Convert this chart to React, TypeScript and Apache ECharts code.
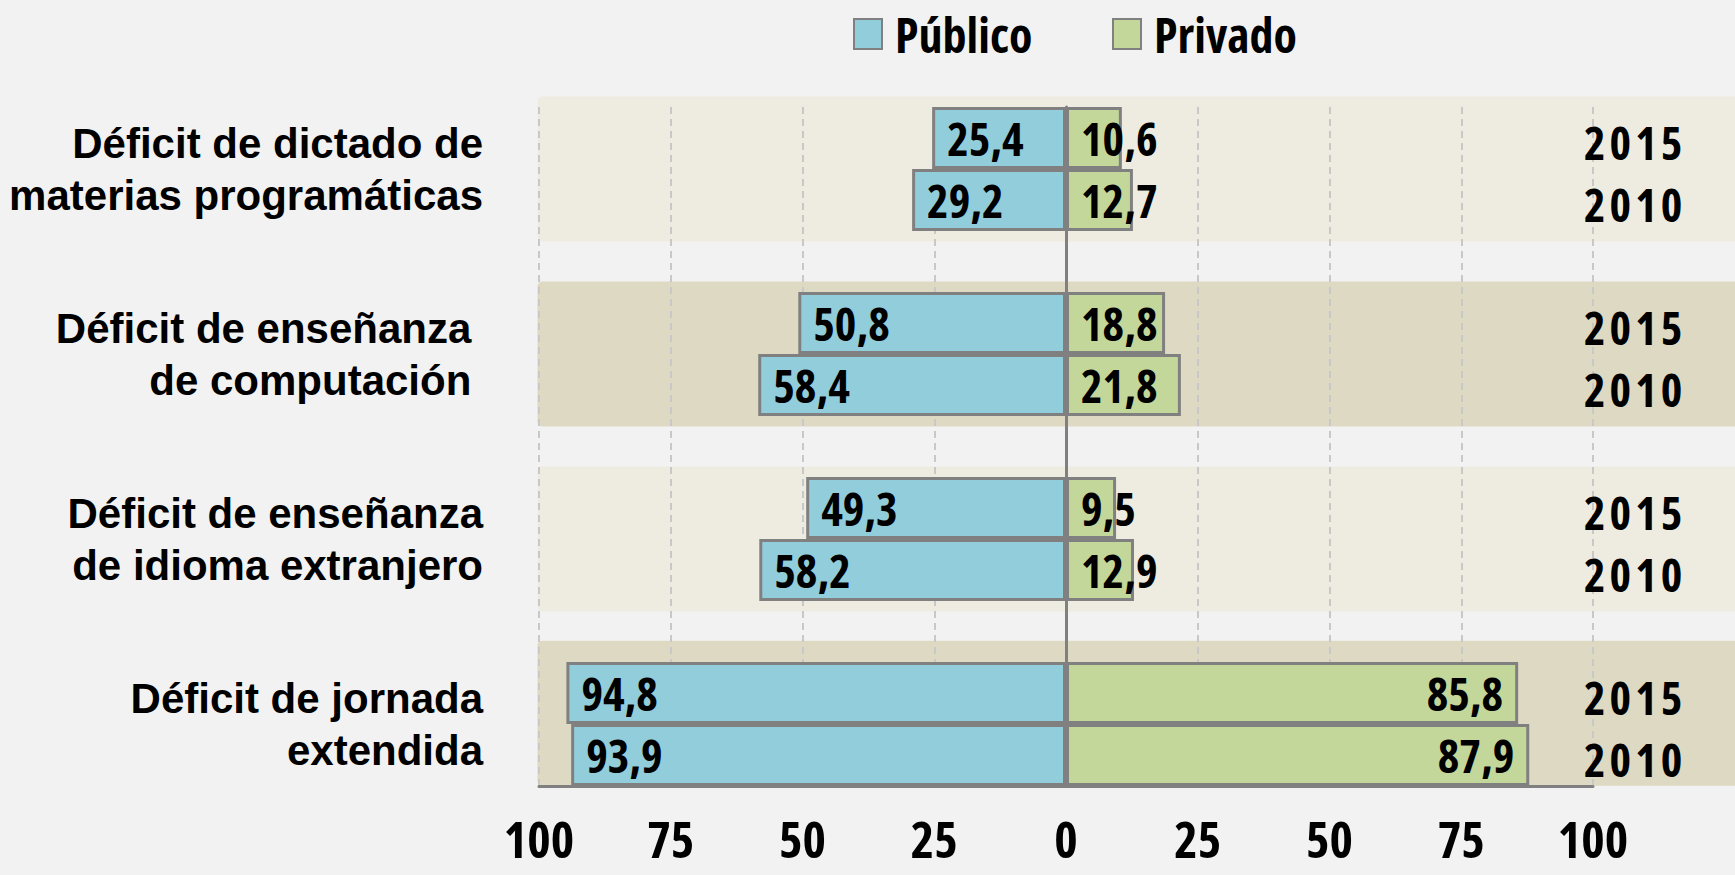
import React, { useEffect, useRef } from "react";
import * as echarts from "echarts";

// ---- data ----
const categories = [
  "Déficit de dictado de\nmaterias programáticas",
  "Déficit de enseñanza \nde computación ",
  "Déficit de enseñanza\nde idioma extranjero",
  "Déficit de jornada\nextendida",
];
const years = ["2015", "2010"];
const publico2015 = [25.4, 50.8, 49.3, 94.8];
const publico2010 = [29.2, 58.4, 58.2, 93.9];
const privado2015 = [10.6, 18.8, 9.5, 85.8];
const privado2010 = [12.7, 21.8, 12.9, 87.9];
const axisMin = -100;
const axisMax = 100;
const axisStep = 25;
const yearLabelValue = 108;

// ---- style ----
// Open Sans is a variable font here: narrow it with font-stretch.
const NARROW = "'Open Sans';font-stretch:75%";
const NARROW_SPACED = "'Open Sans';font-stretch:75%;letter-spacing:4px";
const SANS = "'Liberation Sans', Arial, Helvetica, sans-serif";
const BLUE = "#92CDDC";
const GREEN = "#C4D79B";
const BORDER = "#808080";
const BAND_LIGHT = "#EEECE1";
const BAND_DARK = "#DDD9C3";
const BG = "#F2F2F2";

const fmt = (v: number) => Math.abs(v).toFixed(1).replace(".", ",");

function barSeries(name: string, values: number[], stack: string, sign: number, color: string) {
  return {
    type: "bar",
    name,
    stack,
    xAxisIndex: 0,
    yAxisIndex: 0,
    barWidth: 62,
    barGap: "0%",
    z: 5,
    itemStyle: { color, borderColor: BORDER, borderWidth: 3 },
    label: {
      show: true,
      position: "insideLeft",
      distance: 15,
      fontFamily: NARROW,
      fontWeight: "bold",
      fontSize: 46,
      lineHeight: 48,
      color: "#000",
      formatter: (p: any) => fmt(p.value),
    },
    data: values.map((v) => ({
      value: sign * v,
      label: { position: sign > 0 && v > 50 ? "insideRight" : "insideLeft" },
    })),
  };
}

const legendText = {
  fontFamily: NARROW,
  fontWeight: "bold",
  fontSize: 48,
  lineHeight: 50,
  color: "#000",
  padding: [0, 0, 0, 8],
};

export default function App() {
  const ref = useRef<HTMLDivElement>(null);
  useEffect(() => {
    if (!ref.current) return;
    const chart = echarts.init(ref.current, undefined, { renderer: "svg" });
    const option: any = {
      animation: false,
      backgroundColor: BG,
      legend: [
        {
          data: ["Público"],
          left: 848,
          top: 4,
          icon: "rect",
          itemWidth: 28,
          itemHeight: 30,
          textStyle: legendText,
        },
        {
          data: ["Privado"],
          left: 1107,
          top: 4,
          icon: "rect",
          itemWidth: 28,
          itemHeight: 30,
          textStyle: legendText,
        },
      ],
      grid: [
        { left: 539, right: 142, top: 76.5, height: 740 },
        { left: 539, right: 142, top: 107, height: 679 },
      ],
      xAxis: [
        { type: "value", gridIndex: 0, min: axisMin, max: axisMax, interval: axisStep, show: false },
        {
          type: "value",
          gridIndex: 1,
          min: axisMin,
          max: axisMax,
          interval: axisStep,
          z: 3,
          axisLine: { show: true, onZero: false, lineStyle: { color: BORDER, width: 3 } },
          axisTick: { show: false },
          axisLabel: {
            formatter: (v: number) => String(Math.abs(v)),
            fontFamily: NARROW,
            fontWeight: "bold",
            fontSize: 50,
            lineHeight: 50,
            color: "#000",
            margin: 28,
          },
          splitLine: { show: true, lineStyle: { color: "#C8C8C8", width: 2, type: [7, 5] } },
        },
      ],
      yAxis: [
        {
          type: "category",
          gridIndex: 0,
          inverse: true,
          data: categories,
          axisLine: { show: false },
          axisTick: { show: false },
          splitLine: { show: false },
          axisLabel: {
            fontFamily: SANS,
            fontWeight: "bold",
            fontSize: 42,
            lineHeight: 52,
            color: "#000",
            align: "right",
            margin: 56,
          },
        },
        {
          type: "value",
          gridIndex: 1,
          min: 0,
          max: 1,
          z: 3,
          axisLine: { show: true, onZero: true, lineStyle: { color: BORDER, width: 3 } },
          axisTick: { show: false },
          axisLabel: { show: false },
          splitLine: { show: false },
        },
      ],
      series: [
        {
          type: "custom",
          name: "bands",
          xAxisIndex: 0,
          yAxisIndex: 0,
          z: 1,
          silent: true,
          data: categories.map((_, i) => [axisMin, i]),
          renderItem: (params: any, api: any) => {
            const i = api.value(1);
            const [x0, cy] = api.coord([axisMin, i]);
            const catH = api.size([0, 1])[1];
            const lastCy = api.coord([axisMin, categories.length - 1])[1];
            const bandH = catH * 0.784;
            const bottom = Math.min(cy + bandH / 2, lastCy + catH / 3);
            const top = bottom - bandH;
            return {
              type: "rect",
              shape: { x: x0 - 1.5, y: top, width: api.getWidth() - x0 + 2, height: bandH, r: [5, 0, 0, 5] },
              style: { fill: i % 2 === 0 ? BAND_LIGHT : BAND_DARK },
            };
          },
        },
        barSeries("Público", publico2015, "y2015", -1, BLUE),
        barSeries("Público", publico2010, "y2010", -1, BLUE),
        barSeries("Privado", privado2015, "y2015", 1, GREEN),
        barSeries("Privado", privado2010, "y2010", 1, GREEN),
        {
          type: "custom",
          name: "years",
          xAxisIndex: 0,
          yAxisIndex: 0,
          z: 6,
          silent: true,
          data: categories.map((_, i) => [yearLabelValue, i]),
          renderItem: (params: any, api: any) => {
            const i = api.value(1);
            const [x, cy] = api.coord([yearLabelValue, i]);
            const rowH = api.size([0, 1])[1] / 3;
            return {
              type: "group",
              children: years.map((yr, k) => ({
                type: "text",
                x,
                y: cy + (k - 0.5) * rowH + 4,
                style: {
                  text: yr,
                  fill: "#000",
                  fontFamily: NARROW_SPACED,
                  fontWeight: "bold",
                  fontSize: 46,
                  lineHeight: 48,
                  align: "center",
                  verticalAlign: "middle",
                },
              })),
            };
          },
        },
      ],
    };
    chart.setOption(option);
    return () => chart.dispose();
  }, []);
  return (
    <div
      ref={ref}
      style={{ position: "absolute", left: 0, top: 0, width: 1735, height: 875, background: BG }}
    />
  );
}
